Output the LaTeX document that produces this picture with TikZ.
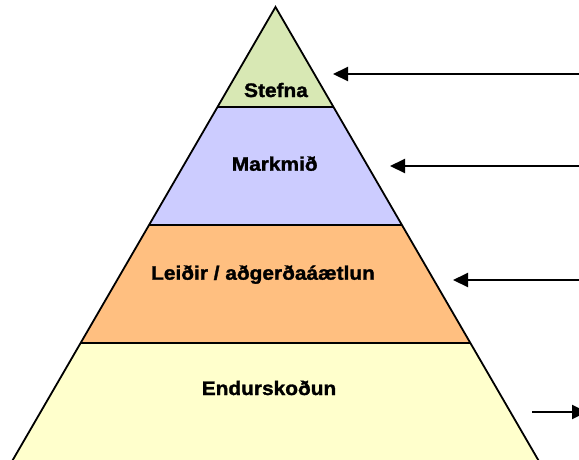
\documentclass[tikz,border=0pt]{standalone}
\usepackage{fontspec}
\setmainfont{Liberation Sans}[FakeStretch=1.07, BoldFeatures={FakeBold=1.5}]
\usetikzlibrary{arrows.meta}
\definecolor{cStefna}{HTML}{D8E8B4}
\definecolor{cMark}{HTML}{CCCCFF}
\definecolor{cLeid}{HTML}{FFBF80}
\definecolor{cEnd}{HTML}{FFFFCC}
\tikzset{
  layer/.style={draw=black, line width=1.8pt, line join=miter},
  lbl/.style={anchor=base, inner sep=0pt, font=\fontsize{19.5}{21}\selectfont\bfseries},
  pointer/.style={line width=2pt, -{Triangle[length=15pt,width=14pt]}}
}
\begin{document}
\begin{tikzpicture}[x=1pt,y=-1pt]
\useasboundingbox (0,0) rectangle (579,459);
% layers
\fill[cEnd] (11.6,462) -- (80.6,343) -- (470.4,343) -- (539.4,462) -- cycle;
\fill[cLeid] (80.6,343) -- (149.1,225) -- (401.9,225) -- (470.4,343) -- cycle;
\fill[cMark] (149.1,225) -- (217.5,107) -- (333.5,107) -- (401.9,225) -- cycle;
\fill[cStefna] (217.5,107) -- (275.5,7) -- (333.5,107) -- cycle;
\draw[layer] (11.6,462) -- (275.5,7) -- (539.4,462);
\draw[layer] (217.5,107) -- (333.5,107);
\draw[layer] (149.1,225) -- (401.9,225);
\draw[layer] (80.6,343) -- (470.4,343);
% labels
\node[lbl] (stefna) at (276,97) {Stefna};
\node[lbl] (markmid) at (274.7,170.7) {Markmið};
\node[lbl] (leidir) at (263,279.7) {Leiðir / aðgerðaáætlun};
\node[lbl] (endur) at (269,395) {Endurskoðun};
% arrows
\coordinate (a1s) at (582,74);  \coordinate (a1e) at (333,74);
\coordinate (a2s) at (582,166); \coordinate (a2e) at (390,166);
\coordinate (a3s) at (582,280); \coordinate (a3e) at (453,280);
\coordinate (a4s) at (532,412); \coordinate (a4e) at (587,412);
\draw[pointer] (a1s) -- (a1e);
\draw[pointer] (a2s) -- (a2e);
\draw[pointer] (a3s) -- (a3e);
\draw[pointer] (a4s) -- (a4e);
\end{tikzpicture}
\end{document}
